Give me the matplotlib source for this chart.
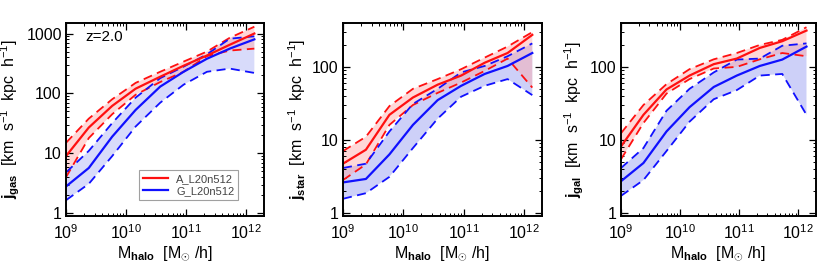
import numpy as np
import matplotlib
matplotlib.use("Agg")
import matplotlib.pyplot as plt
from matplotlib.ticker import LogLocator, FixedLocator, FixedFormatter, NullFormatter

plt.rcParams['font.family'] = ['Liberation Sans', 'DejaVu Sans']
plt.rcParams['mathtext.fontset'] = 'custom'
plt.rcParams['mathtext.rm'] = 'Liberation Sans'
plt.rcParams['mathtext.it'] = 'Liberation Sans'
plt.rcParams['mathtext.bf'] = 'Liberation Sans:bold'

# halo mass bin centres (log10 M_halo)
logm = [9.0, 9.38, 9.77, 10.16, 10.57, 10.96, 11.35, 11.73, 12.14]

# panel 1: j_gas
gas_A_med = [9, 27, 62, 120, 190, 290, 430, 650, 1000]
gas_A_hi = [15, 38, 80, 150, 230, 340, 500, 850, 1300]
gas_A_lo = [4, 18, 45, 95, 155, 230, 420, 520, 560]
gas_G_med = [2.8, 5.7, 19, 53, 130, 230, 380, 560, 800]
gas_G_hi = [4.8, 11, 32, 85, 180, 280, 450, 820, 900]
gas_G_lo = [1.65, 3.1, 9, 28, 70, 140, 230, 260, 220]

# panel 2: j_star
star_A_med = [4.7, 7.3, 22, 38, 57, 76, 114, 155, 275]
star_A_hi = [7, 11, 29, 50, 68, 93, 134, 190, 300]
star_A_lo = [2.8, 4.6, 16, 30, 44, 61, 88, 130, 52]
star_G_med = [2.6, 2.9, 6.3, 16, 35, 55, 80, 103, 155]
star_G_hi = [4.1, 4.7, 13, 31, 50, 84, 103, 140, 210]
star_G_lo = [1.55, 1.85, 3.1, 7.7, 19.5, 39, 55, 68, 41]

# panel 3: j_gal
gal_A_med = [8.1, 22, 49, 76, 109, 130, 182, 225, 315]
gal_A_hi = [12.3, 30, 58, 93, 127, 155, 200, 235, 350]
gal_A_lo = [5.4, 17, 43, 68, 95, 100, 127, 155, 140]
gal_G_med = [2.7, 4.8, 13, 28, 53, 76, 103, 126, 190]
gal_G_hi = [4.1, 7.7, 25, 50, 84, 126, 130, 195, 210]
gal_G_lo = [1.7, 2.8, 7, 17.7, 36, 48, 76, 80, 22]

xticks = [1e9, 1e10, 1e11, 1e12]
xticklabels = [r'$10^{9}$', r'$10^{10}$', r'$10^{11}$', r'$10^{12}$']
labels = ['A_L20n512', 'G_L20n512']
ylabels = [r'$\mathbf{j_{gas}}$  [km  s$^{-1}$  kpc  h$^{-1}$]',
           r'$\mathbf{j_{star}}$  [km  s$^{-1}$  kpc  h$^{-1}$]',
           r'$\mathbf{j_{gal}}$  [km  s$^{-1}$  kpc  h$^{-1}$]']
xlabel = r'M$_{\mathbf{halo}}$  [M$_{\odot}$ /h]'

panels = [
    (gas_A_med, gas_A_hi, gas_A_lo, gas_G_med, gas_G_hi, gas_G_lo, (0.9, 1500),
     [1, 10, 100, 1000], ['1', '10', '100', '1000']),
    (star_A_med, star_A_hi, star_A_lo, star_G_med, star_G_hi, star_G_lo, (0.9, 400),
     [1, 10, 100], ['1', '10', '100']),
    (gal_A_med, gal_A_hi, gal_A_lo, gal_G_med, gal_G_hi, gal_G_lo, (0.9, 400),
     [1, 10, 100], ['1', '10', '100']),
]

W, H = 830, 264
fig = plt.figure(figsize=(W / 100, H / 100), dpi=100)
boxes = [(66, 23, 198, 193), (343, 23, 199, 193), (621, 23, 195, 193)]

red = '#ff1010'
blue = '#1010ff'
x = 10 ** np.array(logm)

for i, (box, p) in enumerate(zip(boxes, panels)):
    l, t, w, h = box
    ax = fig.add_axes([l / W, 1 - (t + h) / H, w / W, h / H])
    am, ah, al, gm, gh, gl, ylim, yt, ytl = p
    ax.fill_between(x, gl, gh, facecolor='#8890f0', alpha=0.32 if i == 0 else 0.42,
                    edgecolor='none', lw=0)
    ax.fill_between(x, al, ah, facecolor='#ffa8a8', alpha=0.45, edgecolor='none', lw=0)
    ax.plot(x, ah, color=red, lw=1.3, ls=(0, (5, 3)))
    ax.plot(x, al, color=red, lw=1.3, ls=(0, (5, 3)))
    ax.plot(x, gh, color=blue, lw=1.3, ls=(0, (5, 3)))
    ax.plot(x, gl, color=blue, lw=1.3, ls=(0, (5, 3)))
    lr, = ax.plot(x, am, color=red, lw=1.6, label=labels[0])
    lb, = ax.plot(x, gm, color=blue, lw=1.6, label=labels[1])
    ax.set_xscale('log')
    ax.set_yscale('log')
    ax.set_xlim(1e9, 2e12)
    ax.set_ylim(*ylim)
    ax.xaxis.set_major_locator(FixedLocator(xticks))
    ax.xaxis.set_major_formatter(FixedFormatter(xticklabels))
    ax.yaxis.set_major_locator(FixedLocator(yt))
    ax.yaxis.set_major_formatter(FixedFormatter(ytl))
    ax.xaxis.set_minor_locator(LogLocator(base=10, subs=np.arange(2, 10), numticks=20))
    ax.yaxis.set_minor_locator(LogLocator(base=10, subs=np.arange(2, 10), numticks=20))
    ax.xaxis.set_minor_formatter(NullFormatter())
    ax.yaxis.set_minor_formatter(NullFormatter())
    ax.tick_params(which='both', direction='in', top=True, right=True, labelsize=11.5)
    ax.tick_params(which='major', length=5, width=0.9)
    ax.tick_params(which='minor', length=2.5, width=0.7)
    ax.tick_params(axis='x', pad=5)
    ax.tick_params(axis='y', pad=3)
    for s in ax.spines.values():
        s.set_linewidth(1.4)
    ax.set_ylabel(ylabels[i], fontsize=11.5, labelpad=3)
    ax.set_xlabel(xlabel, fontsize=11.5, labelpad=2)
    if i == 0:
        ax.text(0.1, 0.93, 'z=2.0', transform=ax.transAxes, fontsize=11,
                ha='left', va='center')
        leg = ax.legend(handles=[lr, lb], loc='lower right',
                        bbox_to_anchor=(0.87, 0.085), fontsize=8,
                        frameon=True, fancybox=False, handlelength=2.3,
                        borderpad=0.35, labelspacing=0.15, handletextpad=0.7,
                        borderaxespad=0.0)
        leg.get_frame().set_edgecolor('#888888')
        leg.get_frame().set_linewidth(0.8)
        for t_ in leg.get_texts():
            t_.set_color('#444444')

fig.savefig('out.png', dpi=100)
